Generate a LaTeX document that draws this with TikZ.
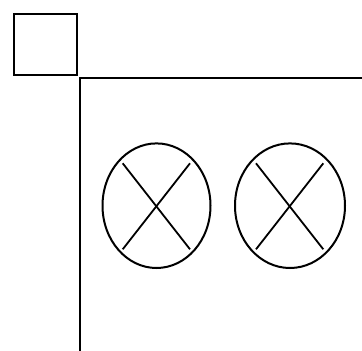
\documentclass[tikz,border=0pt]{standalone}
\begin{document}
\begin{tikzpicture}[x=1pt,y=1pt,line width=2pt,
  shapeline/.style={draw=black,line width=2pt},
  crossline/.style={draw=black,line width=1.8pt}]
\useasboundingbox (0,0) rectangle (362,-351);
% small square
\draw[shapeline] (13.5,-13.5) rectangle (77,-75);
% corner lines
\draw[shapeline] (362,-78) -- (80,-78) -- (80,-351);
% ellipse 1
\draw[shapeline] (156.5,-205.7) ellipse [x radius=54, y radius=62.3];
\draw[crossline] (122.7,-163.3) -- (190,-249.3);
\draw[crossline] (190,-163.3) -- (122.7,-249.3);
% ellipse 2
\draw[shapeline] (290,-205.7) ellipse [x radius=55, y radius=62.3];
\draw[crossline] (256,-163.3) -- (323.3,-249.3);
\draw[crossline] (323.3,-163.3) -- (256,-249.3);
\end{tikzpicture}
\end{document}
